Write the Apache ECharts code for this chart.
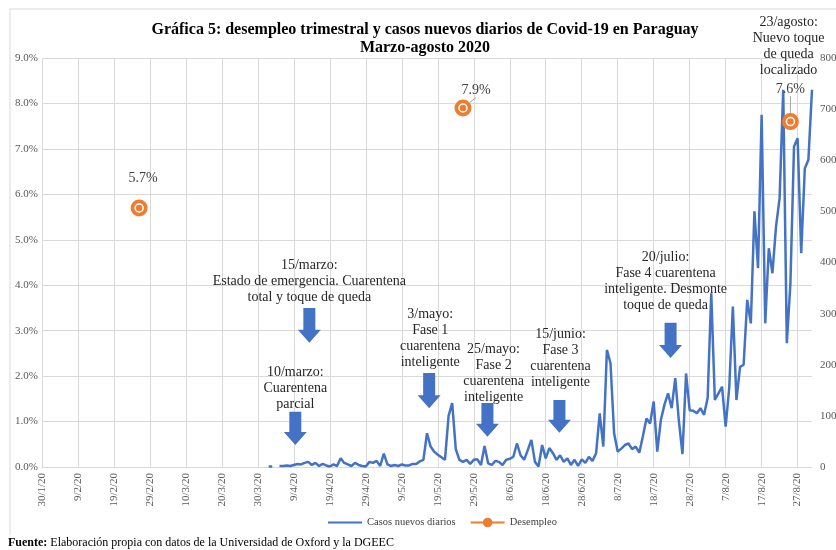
<!DOCTYPE html>
<html>
<head>
<meta charset="utf-8">
<title>Gráfica 5: desempleo y casos de Covid-19 en Paraguay</title>
<script src="https://cdn.jsdelivr.net/npm/echarts@6/dist/echarts.min.js"></script>
<style>
  html, body { margin: 0; padding: 0; background: #fff; }
  #chart { width: 836px; height: 550px; }
</style>
</head>
<body>
<div id="chart"></div>
<script>
// eje de fechas: un día por categoría, del 30/1/20 al 31/8/20
var primerDia = new Date(2020, 0, 30);
var numDias = 215;

// casos nuevos diarios (eje derecho), a partir del día 63 del eje
var diaInicioCasos = 63;
var casos = [
  1, 1, null, 2, 2, 3, 2, 4, 6, 5, 8, 10, 4, 8, 2, 6, 3, 1, 5, 2,
  17, 8, 5, 2, 8, 4, 2, 1, 10, 8, 12, 2, 26, 5, 2, 4, 2, 5, 3, 3,
  6, 6, 11, 14, 66, 40, 30, 24, 19, 14, 100, 125, 35, 14, 10, 14, 6, 14, 15, 4,
  41, 7, 4, 12, 10, 4, 14, 16, 20, 46, 23, 14, 33, 53, 10, 1, 43, 17, 37, 27,
  14, 23, 10, 17, 4, 14, 2, 15, 8, 20, 12, 27, 105, 40, 229, 203, 66, 30, 36, 43,
  46, 35, 40, 28, 60, 95, 85, 128, 30, 92, 122, 144, 115, 174, 90, 25, 183, 111, 110, 105,
  115, 102, 135, 340, 131, 144, 157, 79, 155, 314, 131, 196, 200, 327, 281, 500, 389, 689, 281, 428,
  379, 470, 526, 738, 242, 359, 627, 643, 418, 584, 601, 738
];

// desempleo trimestral (eje izquierdo, %)
var desempleoFechas = ['26/2/20', '26/5/20', '25/8/20'];
var desempleoValores = [5.7, 7.9, 7.6];

// notas sobre el gráfico
var anotaciones = [
  { texto: '15/marzo:\nEstado de emergencia. Cuarentena\ntotal y toque de queda', dia: 74.3, tope: 411, flechaDia: 74.3, flechaDesde: 311, flechaHasta: 243 },
  { texto: '10/marzo:\nCuarentena\nparcial', dia: 70.4, tope: 200, flechaDia: 70.4, flechaDesde: 108, flechaHasta: 43 },
  { texto: '3/mayo:\nFase 1\ncuarentena\ninteligente', dia: 107.9, tope: 315, flechaDia: 107.6, flechaDesde: 184, flechaHasta: 115 },
  { texto: '25/mayo:\nFase 2\ncuarentena\ninteligente', dia: 125.5, tope: 245, flechaDia: 123.8, flechaDesde: 125, flechaHasta: 59 },
  { texto: '15/junio:\nFase 3\ncuarentena\ninteligente', dia: 144.1, tope: 276, flechaDia: 143.8, flechaDesde: 131, flechaHasta: 67 },
  { texto: '20/julio:\nFase 4 cuarentena\ninteligente. Desmonte\ntoque de queda', dia: 173.3, tope: 425, flechaDia: 174.7, flechaDesde: 282, flechaHasta: 213 },
  { texto: '23/agosto:\nNuevo toque\nde queda\nlocalizado', dia: 207.5, tope: 886, flechaDia: null }
];

var fuente = "'Liberation Serif', 'Times New Roman', serif";

var categorias = [];
for (var i = 0; i < numDias; i++) {
  var d = new Date(primerDia.getFullYear(), primerDia.getMonth(), primerDia.getDate() + i);
  categorias.push(d.getDate() + '/' + (d.getMonth() + 1) + '/20');
}

var serieCasos = [];
for (var i = 0; i < numDias; i++) {
  var k = i - diaInicioCasos;
  serieCasos.push(k >= 0 && k < casos.length ? casos[k] : null);
}

var serieDesempleo = [];
for (var i = 0; i < numDias; i++) serieDesempleo.push(null);
var idxDesempleo = [];
for (var j = 0; j < desempleoFechas.length; j++) {
  var idx = categorias.indexOf(desempleoFechas[j]);
  idxDesempleo.push(idx);
  // la primera etiqueta va sin línea guía
  serieDesempleo[idx] = { value: desempleoValores[j], labelLine: { show: j > 0 } };
}
// desplazamiento de cada etiqueta de desempleo
var labelDesp = [[4, -2], [13, 10], [0, -5]];

var chart = echarts.init(document.getElementById('chart'));

chart.setOption({
  animation: false,
  backgroundColor: '#fff',
  textStyle: { fontFamily: fuente },
  grid: { left: 42, right: 24, top: 58, bottom: 83, outerBoundsMode: 'none' },
  legend: {
    data: [
      { name: 'Casos nuevos diarios', itemStyle: { opacity: 0 } },
      { name: 'Desempleo' }
    ],
    left: 322, top: 512,
    itemWidth: 34, itemHeight: 12, itemGap: 14,
    textStyle: { fontSize: 10.5, color: '#404040', fontFamily: fuente }
  },
  xAxis: {
    type: 'category',
    data: categorias,
    boundaryGap: false,
    axisLine: { lineStyle: { color: '#d9d9d9' } },
    axisTick: { show: false },
    axisLabel: { interval: 9, rotate: 90, fontSize: 11, color: '#595959', margin: 6, fontFamily: fuente },
    splitLine: { show: true, interval: 9, lineStyle: { color: '#d9d9d9' } }
  },
  yAxis: [
    {
      type: 'value', min: 0, max: 9, interval: 1, position: 'left',
      axisLabel: { formatter: function (v) { return v.toFixed(1) + '%'; }, fontSize: 11, color: '#595959', margin: 4, fontFamily: fuente },
      axisLine: { show: false }, axisTick: { show: false },
      splitLine: { lineStyle: { color: '#d9d9d9' } }
    },
    {
      type: 'value', min: 0, max: 800, interval: 100, position: 'right',
      axisLabel: { fontSize: 11, color: '#595959', margin: 8, fontFamily: fuente },
      axisLine: { show: false }, axisTick: { show: false },
      splitLine: { show: false }
    }
  ],
  series: [
    {
      name: 'Casos nuevos diarios', type: 'line', yAxisIndex: 1,
      data: serieCasos, symbol: 'none', connectNulls: false,
      lineStyle: { color: '#4472C4', width: 2.5 }, itemStyle: { color: '#4472C4' },
      emphasis: { disabled: true }, z: 2
    },
    {
      name: 'Desempleo', type: 'line', yAxisIndex: 0,
      data: serieDesempleo, symbol: 'circle', symbolSize: 17, showAllSymbol: true, connectNulls: false,
      itemStyle: { color: '#ED7D31' }, lineStyle: { color: '#ED7D31', width: 2.5 },
      label: {
        show: true, position: 'top', distance: 12,
        formatter: function (p) { return Number(p.value).toFixed(1) + '%'; },
        fontSize: 14, color: '#404040', fontFamily: fuente
      },
      labelLayout: function (p) {
        var k = idxDesempleo.indexOf(p.dataIndex);
        if (k < 0) return {};
        return { dx: labelDesp[k][0], dy: labelDesp[k][1] };
      },
      labelLine: { show: true, lineStyle: { color: '#a6a6a6', width: 1 } },
      emphasis: { disabled: true }, z: 3
    },
    {
      name: 'anillo', type: 'line', yAxisIndex: 0,
      data: serieDesempleo.map(function (v) { return v ? v.value : null; }),
      symbol: 'circle', symbolSize: 8, showAllSymbol: true,
      itemStyle: { color: '#ED7D31', borderColor: '#fff', borderWidth: 1.5 },
      lineStyle: { width: 0 }, silent: true, emphasis: { disabled: true }, z: 4
    }
  ]
});

function px(dia, valor) {
  var p0 = chart.convertToPixel({ xAxisIndex: 0, yAxisIndex: 1 }, [0, 0]);
  var p1 = chart.convertToPixel({ xAxisIndex: 0, yAxisIndex: 1 }, [1, 100]);
  return [p0[0] + dia * (p1[0] - p0[0]), p0[1] + valor / 100 * (p1[1] - p0[1])];
}

var graficos = [
  { type: 'polyline', shape: { points: [[10, 535], [10, 9], [836, 9]] }, style: { stroke: '#d9d9d9', lineWidth: 1, fill: null }, silent: true },
  {
    type: 'text', x: 425, y: 21,
    style: {
      text: 'Gráfica 5: desempleo trimestral y casos nuevos diarios de Covid-19 en Paraguay\nMarzo-agosto 2020',
      align: 'center', verticalAlign: 'top', fontSize: 16, fontWeight: 'bold', fontFamily: fuente,
      lineHeight: 18, fill: '#000'
    }
  },
  {
    type: 'text', x: 8, y: 543,
    style: {
      text: '{b|Fuente:} Elaboración propia con datos de la Universidad de Oxford y la DGEEC',
      verticalAlign: 'middle', fontSize: 12, fontFamily: fuente, fill: '#000',
      rich: { b: { fontWeight: 'bold', fontSize: 12, fontFamily: fuente, fill: '#000' } }
    }
  }
];

anotaciones.forEach(function (a) {
  var pt = px(a.dia, a.tope);
  graficos.push({
    type: 'text', x: pt[0], y: pt[1], z: 10,
    style: {
      text: a.texto, align: 'center', verticalAlign: 'top',
      fontSize: 14, fontFamily: fuente, lineHeight: 16, fill: '#262626'
    }
  });
  if (a.flechaDia !== null) {
    var arriba = px(a.flechaDia, a.flechaDesde);
    var punta = px(a.flechaDia, a.flechaHasta);
    var cx = punta[0], yt = arriba[1], yb = punta[1];
    var cab = 13, ejeAncho = 6, cabAncho = 11.5;
    graficos.push({
      type: 'polygon', z: 10,
      shape: {
        points: [
          [cx - ejeAncho, yt], [cx + ejeAncho, yt], [cx + ejeAncho, yb - cab],
          [cx + cabAncho, yb - cab], [cx, yb], [cx - cabAncho, yb - cab], [cx - ejeAncho, yb - cab]
        ]
      },
      style: { fill: '#4472C4' }
    });
  }
});

chart.setOption({ graphic: graficos });
</script>
</body>
</html>
